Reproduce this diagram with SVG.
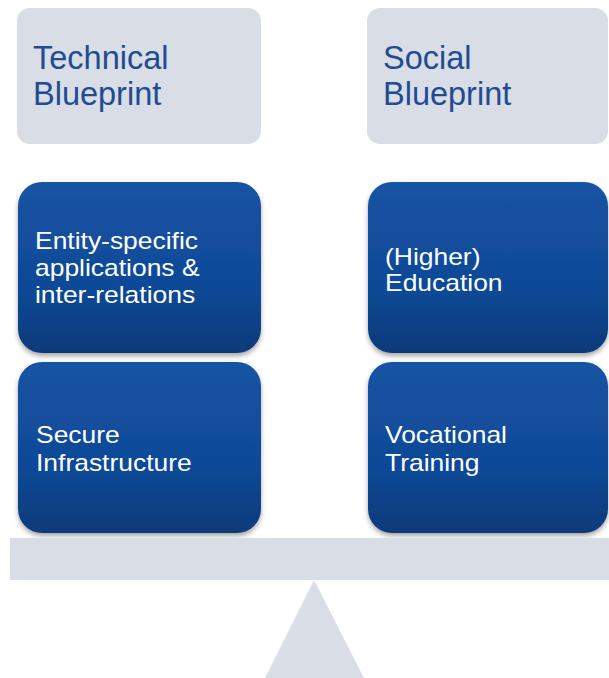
<svg xmlns="http://www.w3.org/2000/svg" width="609" height="678" viewBox="0 0 609 678">
<defs>
<linearGradient id="dk" x1="0" y1="0" x2="0" y2="1">
<stop offset="0" stop-color="#1553a3"/>
<stop offset="0.6" stop-color="#104a98"/>
<stop offset="1" stop-color="#0d3a7a"/>
</linearGradient>
<filter id="sh" x="-10%" y="-10%" width="120%" height="130%">
<feDropShadow dx="0" dy="3" stdDeviation="2.5" flood-color="#000" flood-opacity="0.35"/>
</filter>
<style>
.light{fill:#d9dde5}
.dark{fill:url(#dk);filter:url(#sh)}
.ttl{font-family:"Liberation Sans",Arial,sans-serif;font-size:32.5px;fill:#214c91}
.lbl{font-family:"Liberation Sans",Arial,sans-serif;font-size:23px;fill:#ffffff}
</style>
</defs>
<rect width="609" height="678" fill="#ffffff"/>
<g id="technical-blueprint">
<rect class="light" x="17" y="8" width="244" height="136" rx="13"/>
<text class="ttl" x="33" y="69">Technical</text>
<text class="ttl" x="33" y="105">Blueprint</text>
</g>
<g id="social-blueprint">
<rect class="light" x="367" y="8" width="241" height="136" rx="13"/>
<text class="ttl" x="383" y="69">Social</text>
<text class="ttl" x="383" y="105">Blueprint</text>
</g>
<g id="entity-specific">
<rect class="dark" x="18" y="182" width="243" height="171" rx="24"/>
<g transform="translate(35,0) scale(1.15,1)">
<text class="lbl" x="0" y="249">Entity-specific</text>
<text class="lbl" x="0" y="276">applications &amp;</text>
<text class="lbl" x="0" y="303">inter-relations</text>
</g>
</g>
<g id="secure-infrastructure">
<rect class="dark" x="18" y="362" width="243" height="171" rx="24"/>
<g transform="translate(36,0) scale(1.15,1)">
<text class="lbl" x="0" y="443">Secure</text>
<text class="lbl" x="0" y="471">Infrastructure</text>
</g>
</g>
<g id="higher-education">
<rect class="dark" x="368" y="182" width="240" height="171" rx="24"/>
<g transform="translate(385,0) scale(1.15,1)">
<text class="lbl" x="0" y="265">(Higher)</text>
<text class="lbl" x="0" y="291">Education</text>
</g>
</g>
<g id="vocational-training">
<rect class="dark" x="368" y="362" width="240" height="171" rx="24"/>
<g transform="translate(385,0) scale(1.15,1)">
<text class="lbl" x="0" y="443">Vocational</text>
<text class="lbl" x="0" y="471">Training</text>
</g>
</g>
<g id="balance">
<rect class="light" x="10" y="538" width="599" height="42"/>
<polygon class="light" points="314,580 265,678 364,678"/>
</g>
</svg>
